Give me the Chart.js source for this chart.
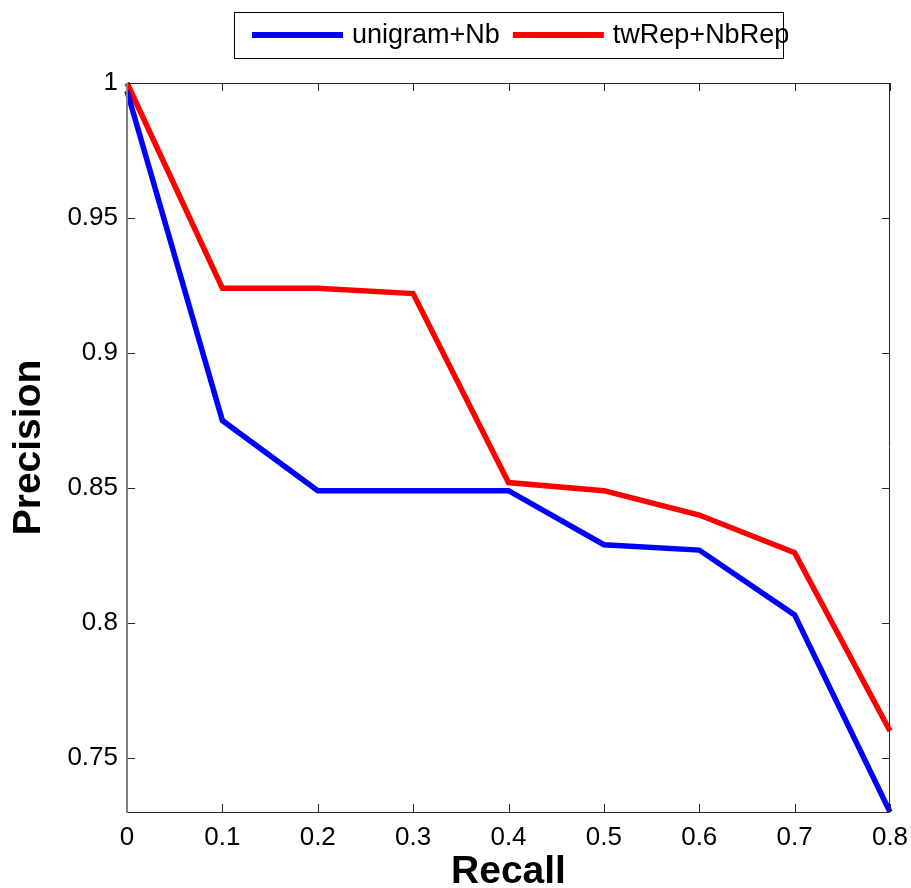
<!DOCTYPE html>
<html><head><meta charset="utf-8">
<script src="https://cdn.jsdelivr.net/npm/chart.js@4"></script>
<style>html,body{margin:0;padding:0;background:#fff;overflow:hidden}#wrap{width:911px;height:888px}</style>
</head><body><div id="wrap"><canvas id="c" width="911" height="888"></canvas></div>
<script>
const recall = [0, 0.1, 0.2, 0.3, 0.4, 0.5, 0.6, 0.7, 0.8];
const unigramNb = [0.997, 0.875, 0.849, 0.849, 0.849, 0.829, 0.827, 0.803, 0.730];
const twRepNbRep = [1.000, 0.924, 0.924, 0.922, 0.852, 0.849, 0.840, 0.826, 0.760];
const seriesNames = ['unigram+Nb', 'twRep+NbRep'];
const seriesColors = ['#0000ff', '#ff0000'];
const xTicks = [0, 0.1, 0.2, 0.3, 0.4, 0.5, 0.6, 0.7, 0.8];
const yTicks = [0.75, 0.8, 0.85, 0.9, 0.95, 1];
const xTitle = 'Recall';
const yTitle = 'Precision';

const FONT = "'Liberation Sans', Arial, sans-serif";
const fmt = v => String(parseFloat(Number(v).toFixed(2)));

const framePlugin = {
  id: 'frame',
  afterDatasetsDraw(chart) {
    const {ctx, chartArea: a, scales: {x, y}} = chart;
    ctx.save();
    ctx.lineWidth = 1;
    ctx.strokeStyle = '#262626';
    const L = 8;
    x.ticks.forEach(t => {
      const px = Math.round(x.getPixelForValue(t.value)) + 0.5;
      ctx.beginPath();
      ctx.moveTo(px, a.bottom); ctx.lineTo(px, a.bottom - L);
      ctx.moveTo(px, a.top); ctx.lineTo(px, a.top + L);
      ctx.stroke();
    });
    y.ticks.forEach(t => {
      const py = Math.round(y.getPixelForValue(t.value)) + 0.5;
      ctx.beginPath();
      ctx.moveTo(a.left, py); ctx.lineTo(a.left + L, py);
      ctx.moveTo(a.right, py); ctx.lineTo(a.right - L, py);
      ctx.stroke();
    });
    ctx.beginPath();
    ctx.moveTo(a.left, a.top + 0.5); ctx.lineTo(a.right, a.top + 0.5);
    ctx.moveTo(a.right - 0.5, a.top); ctx.lineTo(a.right - 0.5, a.bottom);
    ctx.moveTo(a.left, a.bottom + 0.5); ctx.lineTo(a.right, a.bottom + 0.5);
    ctx.stroke();
    ctx.strokeStyle = '#808080';
    ctx.lineWidth = 2;
    ctx.beginPath();
    ctx.moveTo(a.left, a.top); ctx.lineTo(a.left, a.bottom + 1);
    ctx.stroke();
    ctx.restore();
  }
};

const legendPlugin = {
  id: 'boxLegend',
  afterDraw(chart) {
    const ctx = chart.ctx;
    ctx.save();
    const box = {l: 234.5, t: 12.5, r: 783.5, b: 58.5};
    ctx.fillStyle = '#fff';
    ctx.fillRect(box.l, box.t, box.r - box.l, box.b - box.t);
    ctx.font = '27px ' + FONT;
    ctx.textBaseline = 'middle';
    ctx.textAlign = 'left';
    const cy = 35;
    let x = 252;
    chart.data.datasets.forEach(ds => {
      ctx.strokeStyle = ds.borderColor;
      ctx.lineWidth = 6;
      ctx.beginPath();
      ctx.moveTo(x, cy); ctx.lineTo(x + 91, cy);
      ctx.stroke();
      ctx.fillStyle = '#000';
      const tx = x + 100;
      ctx.fillText(ds.label, tx, cy + 1);
      x = tx + ctx.measureText(ds.label).width + 13;
    });
    ctx.strokeStyle = '#000';
    ctx.lineWidth = 1;
    ctx.strokeRect(box.l, box.t, box.r - box.l, box.b - box.t);
    ctx.restore();
  }
};

new Chart(document.getElementById('c'), {
  type: 'line',
  data: {
    datasets: [
      {label: seriesNames[0], data: recall.map((r, i) => ({x: r, y: unigramNb[i]})),
       borderColor: seriesColors[0], backgroundColor: seriesColors[0], borderWidth: 5.5, pointRadius: 0, tension: 0, clip: false},
      {label: seriesNames[1], data: recall.map((r, i) => ({x: r, y: twRepNbRep[i]})),
       borderColor: seriesColors[1], backgroundColor: seriesColors[1], borderWidth: 5.5, pointRadius: 0, tension: 0, clip: false}
    ]
  },
  options: {
    responsive: false,
    animation: false,
    devicePixelRatio: 1,
    layout: {padding: {top: 83, right: 21, bottom: 0, left: 0}},
    plugins: {legend: {display: false}, tooltip: {enabled: false}},
    scales: {
      x: {
        type: 'linear', min: 0, max: 0.8,
        afterBuildTicks: s => { s.ticks = xTicks.map(v => ({value: v})); },
        afterFit: s => { s.height = 76; s.paddingLeft = 0; s.paddingRight = 0; },
        grid: {display: false, drawTicks: false}, border: {display: false},
        ticks: {font: {family: FONT, size: 26}, color: '#000', padding: 10, maxRotation: 0, autoSkip: false, callback: fmt},
        title: {display: true, text: xTitle, color: '#000', font: {family: FONT, size: 39, weight: 'bold', lineHeight: 0.8}, padding: {top: 0, bottom: 0}}
      },
      y: {
        type: 'linear', min: 0.73, max: 1,
        afterBuildTicks: s => { s.ticks = yTicks.map(v => ({value: v})); },
        afterFit: s => { s.width = 127; s.paddingTop = 0; s.paddingBottom = 0; },
        grid: {display: false, drawTicks: false}, border: {display: false},
        ticks: {font: {family: FONT, size: 26}, color: '#000', padding: 9, autoSkip: false, callback: fmt},
        title: {display: true, text: yTitle, color: '#000', font: {family: FONT, size: 39, weight: 'bold', lineHeight: 1}, padding: {top: 10, bottom: 0}}
      }
    }
  },
  plugins: [framePlugin, legendPlugin]
});
</script>
</body></html>
